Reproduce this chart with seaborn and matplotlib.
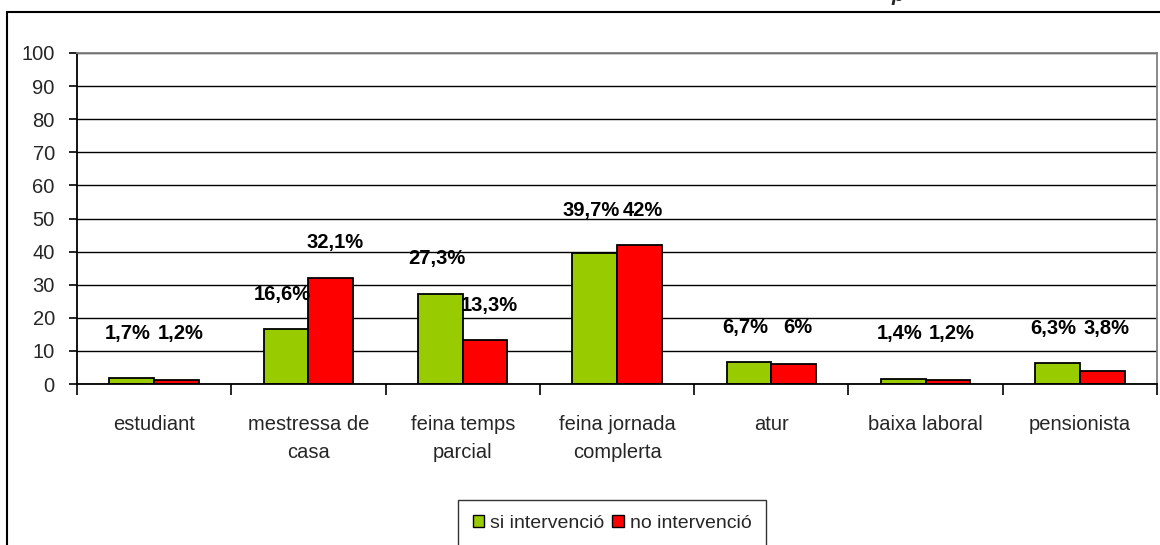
import numpy as np
import matplotlib.pyplot as plt
import matplotlib.patches as mpatches
import pandas as pd
import seaborn as sns

# dades
categories = ['estudiant', 'mestressa de\ncasa', 'feina temps\nparcial',
              'feina jornada\ncomplerta', 'atur', 'baixa laboral', 'pensionista']
si_intervencio = [1.7, 16.6, 27.3, 39.7, 6.7, 1.4, 6.3]
no_intervencio = [1.2, 32.1, 13.3, 42.0, 6.0, 1.2, 3.8]
grups = ['si intervenció', 'no intervenció']
colors = ['#99CC00', '#FF0000']

df = pd.DataFrame({
    'categoria': categories * 2,
    'valor': si_intervencio + no_intervencio,
    'grup': [grups[0]] * len(categories) + [grups[1]] * len(categories),
})

sns.set_style('white')
plt.rcParams['font.family'] = ['Liberation Sans', 'DejaVu Sans']

fig = plt.figure(figsize=(11.6, 5.45), dpi=100)
ax = fig.add_axes([77 / 1160, 1 - 384 / 545, 1080 / 1160, 331 / 545])

w = 0.58
sns.barplot(data=df, x='categoria', y='valor', hue='grup', palette=colors,
            width=w, edgecolor='black', linewidth=1.3, saturation=1,
            ax=ax, legend=False)

# etiquetes de valor (si els dos valors son propers, a la mateixa alçada)
for i in range(len(categories)):
    pair = [si_intervencio[i], no_intervencio[i]]
    for j, v in enumerate(pair):
        base = max(pair) if abs(pair[0] - pair[1]) < 5 else v
        txt = f'{v:g}'.replace('.', ',') + '%'
        x = i + (j - 0.5) * (w / 2 + 0.05)
        ax.text(x, max(base + 10.5, 15.4), txt, ha='center', va='center',
                fontsize=14.5, fontweight='bold', color='black')

ax.set_ylim(0, 100)
ax.set_xlim(-0.5, len(categories) - 0.5)
ax.set_yticks(np.arange(0, 101, 10))
ax.yaxis.grid(True, color='black', linewidth=1)
ax.set_axisbelow(True)
ax.set_xlabel('')
ax.set_ylabel('')

# vores de l'area
for s in ['top', 'right']:
    ax.spines[s].set_color('#808080')
    ax.spines[s].set_linewidth(1.3)
for s in ['left', 'bottom']:
    ax.spines[s].set_color('black')
    ax.spines[s].set_linewidth(1.3)

ax.tick_params(axis='y', which='major', left=True, length=6, width=1.2,
               labelsize=14.5, pad=10, color='black')
ax.tick_params(axis='x', which='major', length=0, labelsize=14.5, pad=22)
ax.set_xticks(np.arange(-0.5, len(categories), 1), minor=True)
ax.tick_params(axis='x', which='minor', bottom=True, length=8, width=1.2, color='black')
for t in ax.get_xticklabels():
    t.set_linespacing(1.6)

# llegenda
handles = [mpatches.Patch(facecolor=c, edgecolor='black', label=g) for c, g in zip(colors, grups)]
leg = fig.legend(handles=handles, loc='upper center', bbox_to_anchor=(612 / 1160, 1 - 500 / 545),
                 ncol=2, fontsize=14, frameon=True, fancybox=False, borderpad=0.75,
                 borderaxespad=0, handlelength=0.6, handleheight=0.6,
                 handletextpad=0.3, columnspacing=0.4)
leg.get_frame().set_edgecolor('black')
leg.get_frame().set_linewidth(1)

# marc del grafic
frame = mpatches.Rectangle((7 / 1160, -0.1), 1.2, 1.1 - 12 / 545, transform=fig.transFigure,
                           fill=False, edgecolor='black', linewidth=1.5)
fig.patches.append(frame)
fig.text(898 / 1160, 1 - 1 / 545, 'p', ha='center', va='baseline', fontsize=15,
         fontstyle='italic', fontweight='bold')

fig.savefig('out.png', dpi=100)
